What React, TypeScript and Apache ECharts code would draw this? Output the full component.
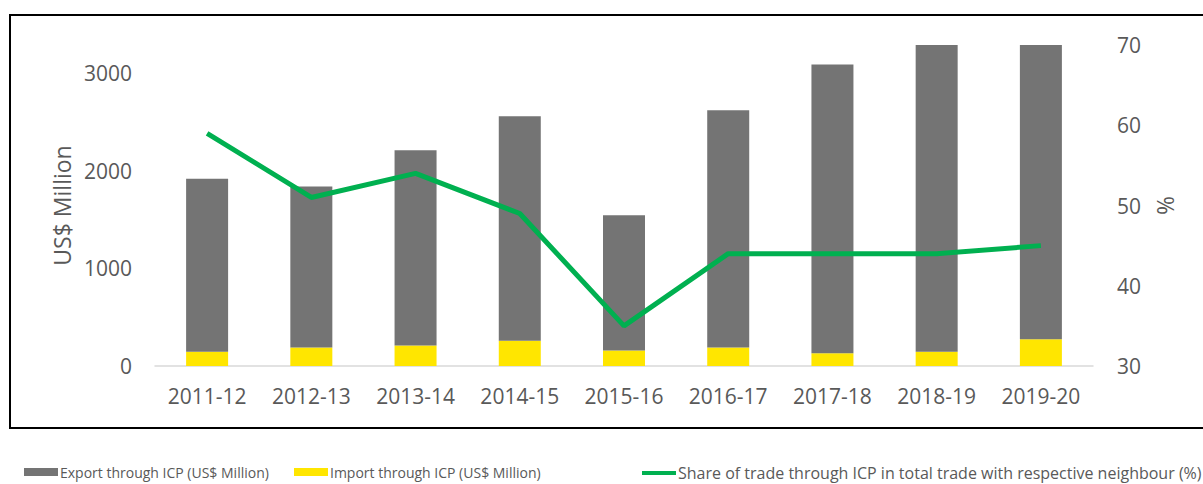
import React, { useEffect, useRef } from "react";
import * as echarts from "echarts";

const categories = ["2011-12", "2012-13", "2013-14", "2014-15", "2015-16", "2016-17", "2017-18", "2018-19", "2019-20"];
const importValues = [145, 190, 210, 260, 160, 190, 130, 145, 275];
const exportValues = [1775, 1650, 2000, 2300, 1385, 2430, 2960, 3155, 3025];
const shareValues = [59, 51, 54, 49, 35, 44, 44, 44, 45];

const EXPORT_NAME = "Export through ICP (US$ Million)";
const IMPORT_NAME = "Import through ICP (US$ Million)";
const SHARE_NAME = "Share of trade through ICP in total trade with respective neighbour (%)";

const FONT = "'Open Sans', 'Noto Sans', sans-serif";
const TXT = "#595959";

export default function App() {
  const ref = useRef<HTMLDivElement>(null);
  useEffect(() => {
    document.body.style.margin = "0";
    const chart = echarts.init(ref.current!, null, { renderer: "svg" });
    const legendBase = {
      top: 465,
      padding: 0,
      itemWidth: 34,
      itemHeight: 8,
      itemGap: 2,
      textStyle: { fontSize: 14, color: TXT, fontFamily: FONT, padding: [0, 0, 0, -3] },
    };
    chart.setOption({
      animation: false,
      textStyle: { fontFamily: FONT },
      graphic: [
        {
          type: "rect",
          shape: { x: 10, y: 15, width: 1200, height: 413 },
          style: { fill: "none", stroke: "#000", lineWidth: 2 },
          z: 100,
        },
      ],
      grid: { left: 155, right: 110, top: 45, bottom: 118 },
      legend: [
        { ...legendBase, left: 24, data: [{ name: EXPORT_NAME, icon: "rect" }] },
        { ...legendBase, left: 294, data: [{ name: IMPORT_NAME, icon: "rect" }] },
        {
          ...legendBase,
          left: 642,
          textStyle: { ...legendBase.textStyle, fontSize: 16 },
          data: [{ name: SHARE_NAME, icon: "path://M0,0h34v4h-34z" }],
        },
      ],
      xAxis: {
        type: "category",
        data: categories,
        axisLine: { lineStyle: { color: "#d9d9d9", width: 1.5 } },
        axisTick: { show: false },
        axisLabel: { fontSize: 21, color: TXT, margin: 19, fontFamily: FONT },
      },
      yAxis: [
        {
          type: "value",
          min: 0,
          max: 3290,
          interval: 1000,
          name: "US$ Million",
          nameLocation: "middle",
          nameGap: 81,
          nameTextStyle: { fontSize: 23, color: TXT, fontFamily: FONT },
          splitLine: { show: false },
          axisLine: { show: false },
          axisLabel: {
            fontSize: 21,
            color: TXT,
            margin: 23,
            showMaxLabel: false,
            fontFamily: FONT,
            formatter: (v: number) => String(v),
          },
        },
        {
          type: "value",
          min: 30,
          max: 70,
          interval: 10,
          name: "%",
          nameLocation: "middle",
          nameGap: 60,
          nameRotate: 90,
          nameTextStyle: { fontSize: 23, color: TXT, fontFamily: FONT },
          splitLine: { show: false },
          axisLine: { show: false },
          axisLabel: { fontSize: 21, color: TXT, margin: 24, fontFamily: FONT, formatter: (v: number) => String(v) },
        },
      ],
      series: [
        {
          name: IMPORT_NAME,
          type: "bar",
          stack: "trade",
          barWidth: 42,
          data: importValues,
          itemStyle: { color: "#FFE600" },
        },
        {
          name: EXPORT_NAME,
          type: "bar",
          stack: "trade",
          barWidth: 42,
          data: exportValues,
          itemStyle: { color: "#747474" },
        },
        {
          name: SHARE_NAME,
          type: "line",
          yAxisIndex: 1,
          data: shareValues,
          symbol: "none",
          lineStyle: { color: "#00B050", width: 5 },
          itemStyle: { color: "#00B050" },
          z: 5,
        },
      ],
    });
    return () => chart.dispose();
  }, []);
  return <div ref={ref} style={{ width: 1203, height: 484 }} />;
}
